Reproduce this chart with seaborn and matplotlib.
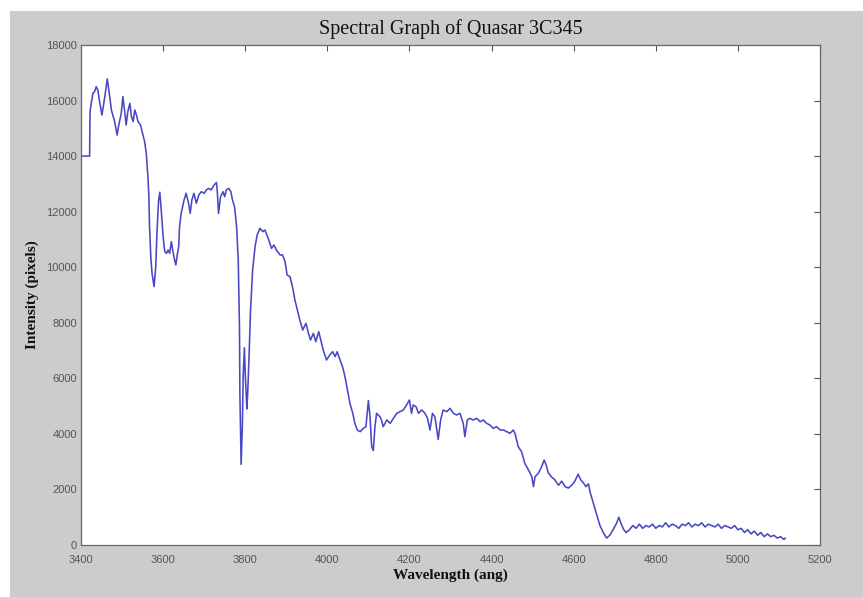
import matplotlib
matplotlib.use("Agg")
import matplotlib.pyplot as plt
import seaborn as sns
import pandas as pd
from matplotlib.patches import Rectangle

# ---- data ----
wavelength = [
    3400, 3421, 3422, 3425, 3429, 3433, 3437, 3441, 3446, 3451,
    3458, 3464, 3470, 3474, 3482, 3488, 3492, 3498, 3502, 3506,
    3510, 3514, 3519, 3523, 3527, 3531, 3535, 3539, 3545, 3551,
    3555, 3559, 3563, 3565, 3567, 3570, 3573, 3578, 3582, 3585,
    3589, 3592, 3596, 3600, 3604, 3608, 3612, 3616, 3620, 3624,
    3628, 3631, 3635, 3638, 3640, 3644, 3651, 3656, 3662, 3666,
    3670, 3675, 3681, 3687, 3693, 3700, 3705, 3711, 3717, 3724,
    3730, 3732, 3735, 3740, 3746, 3750, 3754, 3760, 3765, 3769,
    3774, 3779, 3783, 3786, 3787, 3789, 3790, 3793, 3795, 3798,
    3800, 3804, 3806, 3809, 3813, 3818, 3824, 3829, 3836, 3843,
    3848, 3856, 3864, 3870, 3876, 3885, 3891, 3897, 3902, 3909,
    3916, 3921, 3927, 3933, 3940, 3948, 3954, 3959, 3966, 3972,
    3979, 3984, 3990, 3998, 4006, 4013, 4019, 4024, 4031, 4037,
    4043, 4049, 4055, 4062, 4067, 4073, 4080, 4088, 4094, 4100,
    4104, 4108, 4112, 4116, 4120, 4128, 4132, 4136, 4145, 4153,
    4161, 4169, 4177, 4185, 4193, 4200, 4205, 4209, 4216, 4222,
    4230, 4238, 4244, 4250, 4256, 4262, 4270, 4276, 4282, 4291,
    4299, 4307, 4315, 4323, 4331, 4335, 4341, 4347, 4355, 4364,
    4372, 4380, 4388, 4396, 4404, 4412, 4421, 4429, 4437, 4445,
    4453, 4457, 4465, 4473, 4481, 4490, 4498, 4502, 4506, 4514,
    4522, 4528, 4533, 4538, 4546, 4554, 4563, 4571, 4579, 4587,
    4595, 4603, 4611, 4617, 4623, 4630, 4636, 4640, 4646, 4652,
    4658, 4664, 4672, 4680, 4688, 4696, 4705, 4710, 4716, 4722,
    4728, 4736, 4744, 4752, 4760, 4768, 4776, 4784, 4792, 4800,
    4808, 4816, 4824, 4832, 4840, 4848, 4856, 4864, 4872, 4880,
    4888, 4896, 4904, 4912, 4920, 4928, 4936, 4944, 4952, 4960,
    4968, 4976, 4984, 4992, 5000, 5008, 5016, 5024, 5032, 5040,
    5048, 5056, 5064, 5072, 5080, 5088, 5096, 5104, 5112, 5116,
]
intensity = [
    14000, 14000, 15600, 15900, 16260, 16320, 16500, 16380, 15900, 15480,
    16140, 16780, 16140, 15660, 15240, 14760, 15120, 15540, 16140, 15660,
    15120, 15600, 15900, 15420, 15240, 15660, 15480, 15240, 15120, 14760,
    14520, 14100, 13260, 12660, 11460, 10380, 9780, 9300, 10020, 11230,
    12420, 12700, 11940, 11100, 10560, 10500, 10620, 10500, 10920, 10560,
    10260, 10080, 10500, 10740, 11460, 11940, 12420, 12660, 12300, 11940,
    12420, 12660, 12300, 12600, 12720, 12660, 12780, 12840, 12780, 12960,
    13050, 12720, 11940, 12540, 12720, 12540, 12780, 12840, 12720, 12420,
    12180, 11460, 10260, 7860, 5460, 3660, 2900, 4260, 6060, 7100,
    6180, 4900, 5460, 6660, 8460, 9900, 10740, 11160, 11400, 11280,
    11340, 11040, 10680, 10800, 10620, 10440, 10440, 10200, 9720, 9660,
    9240, 8820, 8460, 8100, 7740, 7980, 7620, 7380, 7620, 7320,
    7680, 7380, 7020, 6660, 6840, 6960, 6780, 6960, 6660, 6420,
    6060, 5580, 5100, 4740, 4380, 4140, 4080, 4200, 4260, 5200,
    4620, 3540, 3400, 4260, 4740, 4620, 4500, 4260, 4500, 4380,
    4560, 4740, 4800, 4860, 5040, 5220, 4740, 5040, 4980, 4740,
    4860, 4740, 4560, 4140, 4740, 4620, 3800, 4500, 4860, 4800,
    4920, 4740, 4680, 4740, 4380, 3900, 4500, 4560, 4500, 4560,
    4440, 4500, 4380, 4320, 4200, 4260, 4140, 4140, 4080, 4020,
    4140, 4020, 3540, 3360, 2940, 2700, 2460, 2100, 2460, 2580,
    2820, 3060, 2880, 2600, 2450, 2350, 2150, 2300, 2100, 2050,
    2150, 2300, 2550, 2350, 2250, 2100, 2200, 1900, 1600, 1300,
    1000, 700, 450, 250, 350, 550, 800, 1000, 750, 550,
    450, 550, 700, 600, 750, 600, 700, 650, 750, 600,
    700, 650, 800, 650, 750, 700, 600, 750, 700, 800,
    650, 750, 700, 800, 650, 750, 700, 650, 750, 600,
    700, 650, 600, 700, 550, 600, 450, 550, 400, 500,
    350, 450, 300, 400, 300, 350, 250, 300, 200, 250,
]
x_ticks = [3400, 3600, 3800, 4000, 4200, 4400, 4600, 4800, 5000, 5200]
y_ticks = [0, 2000, 4000, 6000, 8000, 10000, 12000, 14000, 16000, 18000]
title = "Spectral Graph of Quasar 3C345"
x_label = "Wavelength (ang)"
y_label = "Intensity (pixels)"

assert len(wavelength) == len(intensity)
df = pd.DataFrame({"wavelength": wavelength, "intensity": intensity})

sns.set_theme(style="white")
plt.rcParams["font.family"] = ["Liberation Serif", "DejaVu Serif"]

fig = plt.figure(figsize=(8.63, 5.97), dpi=100, facecolor="white")
# grey figure panel (MATLAB window), leaving a thin white margin top/left
bg = Rectangle((10 / 863, 0), 1 - 10 / 863, 1 - 11 / 597,
               transform=fig.transFigure, facecolor="#cccccc",
               edgecolor="none", zorder=-10)
fig.add_artist(bg)

ax = fig.add_axes([81 / 863, 52 / 597, (820 - 81) / 863, (545 - 45) / 597])
ax.set_zorder(5)
ax.set_facecolor("white")

sns.lineplot(data=df, x="wavelength", y="intensity", ax=ax, sort=False,
             estimator=None, color="#4848c4", linewidth=1.15)

ax.set_xlim(3400, 5200)
ax.set_ylim(0, 18000)
ax.set_xticks(x_ticks)
ax.set_yticks(y_ticks)
ax.set_xticklabels([str(t) for t in x_ticks], family="Liberation Sans",
                   fontsize=8, color="#555555")
ax.set_yticklabels([str(t) for t in y_ticks], family="Liberation Sans",
                   fontsize=8, color="#555555")
ax.tick_params(axis="both", direction="in", length=4, width=0.8,
               color="#555555", top=True, right=True)
ax.tick_params(axis="x", pad=7)
ax.tick_params(axis="y", pad=3)
for s in ax.spines.values():
    s.set_visible(True)
    s.set_color("#666666")
    s.set_linewidth(0.9)

ax.set_xlabel(x_label, fontsize=11, fontweight="bold", color="#111111",
              labelpad=3)
ax.set_ylabel(y_label, fontsize=11, fontweight="bold", color="#111111",
              labelpad=5)
ax.set_title(title, fontsize=14.5, color="#111111", pad=8)

fig.savefig("out.png", dpi=100, facecolor=fig.get_facecolor())
